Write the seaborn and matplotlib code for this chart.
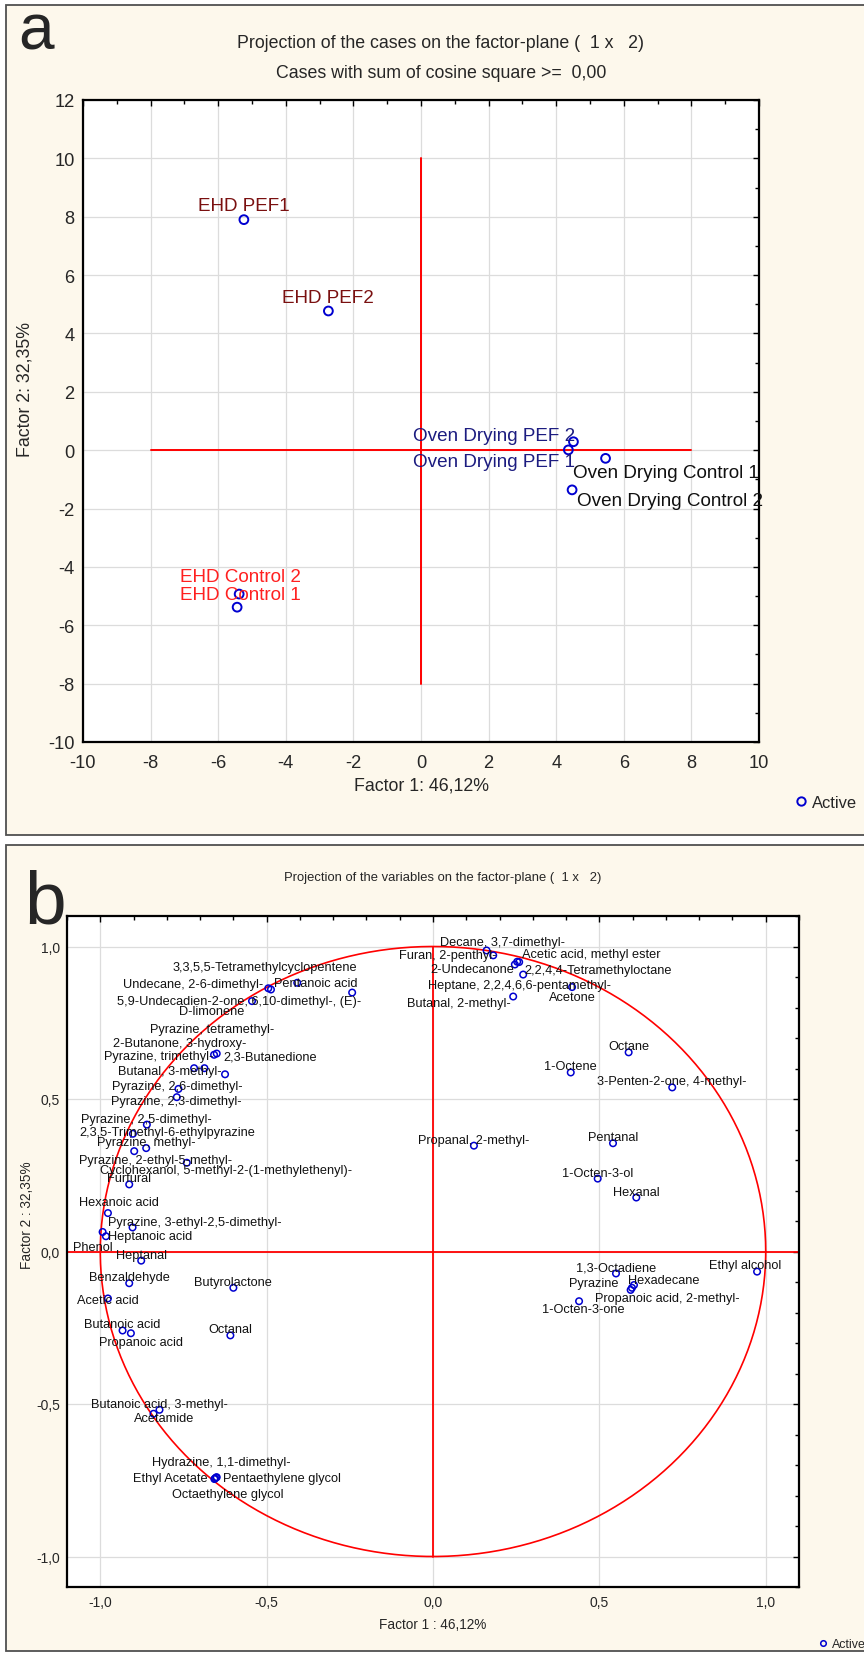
import numpy as np
import matplotlib
matplotlib.use("Agg")
import matplotlib.pyplot as plt
from matplotlib import font_manager
from matplotlib.lines import Line2D
from matplotlib.patches import Rectangle
from matplotlib.ticker import MultipleLocator, FuncFormatter
import seaborn as sns

# ---- panel a: cases on the factor plane
case_names = ["EHD PEF1", "EHD PEF2", "Oven Drying PEF 2", "Oven Drying PEF 1",
              "Oven Drying Control 1", "Oven Drying Control 2", "EHD Control 2", "EHD Control 1"]
case_f1 = [-5.24, -2.74, 4.51, 4.36, 5.46, 4.47, -5.38, -5.44]
case_f2 = [7.9, 4.77, 0.29, 0.01, -0.28, -1.36, -4.93, -5.38]
case_group = ["ehd_pef", "ehd_pef", "oven_pef", "oven_pef", "oven_ctrl", "oven_ctrl", "ehd_ctrl", "ehd_ctrl"]

# ---- panel b: variables on the factor plane
var_names = [
    "Decane, 3,7-dimethyl-", "Furan, 2-penthyl-", "Acetic acid, methyl ester", "2-Undecanone",
    "2,2,4,4-Tetramethyloctane", "Heptane, 2,2,4,6,6-pentamethyl-", "Acetone", "Butanal, 2-methyl-",
    "Octane", "1-Octene", "3-Penten-2-one, 4-methyl-", "Propanal, 2-methyl-", "Pentanal",
    "1-Octen-3-ol", "Hexanal", "1,3-Octadiene", "Hexadecane", "Pyrazine",
    "Propanoic acid, 2-methyl-", "1-Octen-3-one", "Ethyl alcohol",
    "3,3,5,5-Tetramethylcyclopentene", "Undecane, 2-6-dimethyl-", "Pentanoic acid",
    "5,9-Undecadien-2-one, 6,10-dimethyl-, (E)-", "D-limonene", "Pyrazine, tetramethyl-",
    "2-Butanone, 3-hydroxy-", "Pyrazine, trimethyl-", "2,3-Butanedione", "Butanal, 3-methyl-",
    "Pyrazine, 2,6-dimethyl-", "Pyrazine, 2,3-dimethyl-", "Pyrazine, 2,5-dimethyl-",
    "2,3,5-Trimethyl-6-ethylpyrazine", "Pyrazine, methyl-", "Pyrazine, 2-ethyl-5-methyl-",
    "Cyclohexanol, 5-methyl-2-(1-methylethenyl)-", "Furfural", "Hexanoic acid",
    "Pyrazine, 3-ethyl-2,5-dimethyl-", "Phenol", "Heptanoic acid", "Heptanal", "Benzaldehyde",
    "Butyrolactone", "Acetic acid", "Butanoic acid", "Propanoic acid", "Octanal",
    "Butanoic acid, 3-methyl-", "Acetamide", "Hydrazine, 1,1-dimethyl-", "Ethyl Acetate",
    "Pentaethylene glycol", "Octaethylene glycol",
]
var_f1 = [0.161, 0.181, 0.259, 0.246, 0.253, 0.271, 0.418, 0.241,
          0.588, 0.414, 0.719, 0.123, 0.541, 0.495, 0.611, 0.550,
          0.604, 0.598, 0.594, 0.439, 0.974,
          -0.495, -0.487, -0.408, -0.544, -0.243,
          -0.687, -0.718, -0.658, -0.650, -0.625,
          -0.765, -0.770, -0.860, -0.902, -0.862,
          -0.898, -0.740, -0.913, -0.977, -0.903,
          -0.993, -0.983, -0.877, -0.913, -0.600,
          -0.977, -0.933, -0.908, -0.609, -0.822,
          -0.840, -0.650, -0.655, -0.652, -0.657]
var_f2 = [0.987, 0.971, 0.949, 0.941, 0.950, 0.908, 0.867, 0.836,
          0.653, 0.587, 0.538, 0.347, 0.355, 0.239, 0.177, -0.072,
          -0.110, -0.119, -0.126, -0.163, -0.066,
          0.863, 0.859, 0.881, 0.821, 0.849,
          0.601, 0.601, 0.645, 0.649, 0.581,
          0.533, 0.506, 0.416, 0.386, 0.339,
          0.329, 0.291, 0.220, 0.126, 0.079,
          0.064, 0.050, -0.030, -0.104, -0.119,
          -0.154, -0.259, -0.268, -0.275, -0.519,
          -0.532, -0.740, -0.744, -0.741, -0.746]

# label placement: (dx px, dy px, ha) relative to the point
case_label_pos = {
    "EHD PEF1": (0, 14, "center"), "EHD PEF2": (0, 13, "center"),
    "Oven Drying PEF 2": (2, 6, "right"), "Oven Drying PEF 1": (7, -12, "right"),
    "Oven Drying Control 1": (-33, -14, "left"), "Oven Drying Control 2": (5, -11, "left"),
    "EHD Control 2": (1, 18, "center"), "EHD Control 1": (3, 13, "center"),
}
case_colors = {"ehd_pef": "#7a1010", "oven_pef": "#1c1c80", "oven_ctrl": "#101010", "ehd_ctrl": "#ff2020"}

var_label_pos = {
    "Decane, 3,7-dimethyl-": (16, 8, "center"), "Furan, 2-penthyl-": (3, 0, "right"),
    "Acetic acid, methyl ester": (72, 8, "center"), "2-Undecanone": (-1, -5, "right"),
    "2,2,4,4-Tetramethyloctane": (7, -8, "left"), "Heptane, 2,2,4,6,6-pentamethyl-": (-4, -10, "center"),
    "Acetone": (0, -10, "center"), "Butanal, 2-methyl-": (-2, -6, "right"),
    "Ethyl alcohol": (-12, 7, "center"), "Hexadecane": (-6, 5, "left"), "Pyrazine": (-13, 5, "right"),
    "Propanoic acid, 2-methyl-": (-36, -8, "left"), "1-Octen-3-one": (4, -8, "center"),
    "3,3,5,5-Tetramethylcyclopentene": (-3, 21, "center"), "Undecane, 2-6-dimethyl-": (-8, 6, "right"),
    "Pentanoic acid": (-23, 0, "left"), "5,9-Undecadien-2-one, 6,10-dimethyl-, (E)-": (-13, 0, "center"),
    "D-limonene": (-140, -18, "center"), "Pyrazine, tetramethyl-": (8, 39, "center"),
    "2-Butanone, 3-hydroxy-": (-14, 25, "center"), "Pyrazine, trimethyl-": (-1, -1, "right"),
    "2,3-Butanedione": (7, -3, "left"), "Butanal, 3-methyl-": (-3, 3, "right"),
    "Pyrazine, 2,6-dimethyl-": (-1, 3, "center"), "Pyrazine, 2,3-dimethyl-": (0, -4, "center"),
    "2,3,5-Trimethyl-6-ethylpyrazine": (34, 2, "center"), "Pyrazine, 2-ethyl-5-methyl-": (21, -9, "center"),
    "Cyclohexanol, 5-methyl-2-(1-methylethenyl)-": (39, -7, "center"), "Hexanoic acid": (11, 11, "center"),
    "Pyrazine, 3-ethyl-2,5-dimethyl-": (62, 5, "center"), "Phenol": (-10, -15, "center"),
    "Heptanoic acid": (2, 0, "left"), "Acetic acid": (0, -2, "center"), "Propanoic acid": (10, -9, "center"),
    "Acetamide": (11, -4, "center"), "Hydrazine, 1,1-dimethyl-": (5, 15, "center"),
    "Ethyl Acetate": (-7, 0, "right"), "Pentaethylene glycol": (7, 0, "left"),
    "Octaethylene glycol": (13, -15, "center"),
}

sns.set_style("white")
available = {f.name for f in font_manager.fontManager.ttflist}
NARROW = "Liberation Sans Narrow" if "Liberation Sans Narrow" in available else "Liberation Sans"
SQ = 1.0 if NARROW == "Liberation Sans Narrow" else 0.85
plt.rcParams["font.family"] = ["Liberation Sans", "DejaVu Sans"]

W, H = 864, 1656
BG = "#fdf8ec"
POINT = "#0000d0"
fig = plt.figure(figsize=(W / 100, H / 100), dpi=100)
fig.patch.set_facecolor("white")


def fx(px):
    return px / W


def fy(py):
    return 1 - py / H


# cream panel frames, kept behind the axes
for top, bottom in [(6, 836), (846, 1652)]:
    fig.patches.append(Rectangle((fx(6), fy(bottom)), fx(900), (bottom - top) / H,
                                 transform=fig.transFigure, facecolor=BG, edgecolor="#505050",
                                 linewidth=1.3, zorder=-10))


def style_axes(ax, major, minor, fmt, tick_font, tick_size, pad_x, pad_y):
    ax.set_zorder(5)
    ax.set_facecolor("white")
    ax.xaxis.set_major_locator(MultipleLocator(major))
    ax.yaxis.set_major_locator(MultipleLocator(major))
    ax.xaxis.set_minor_locator(MultipleLocator(minor))
    ax.yaxis.set_minor_locator(MultipleLocator(minor))
    ax.xaxis.set_major_formatter(FuncFormatter(fmt))
    ax.yaxis.set_major_formatter(FuncFormatter(fmt))
    ax.grid(True, which="major", color="#dcdcdc", linewidth=0.9, zorder=0)
    ax.set_axisbelow(True)
    for s in ax.spines.values():
        s.set_color("black")
        s.set_linewidth(1.6)
    ax.tick_params(which="both", direction="in", top=True, right=True, color="black", width=1.0)
    ax.tick_params(which="major", length=4)
    ax.tick_params(which="minor", length=3)
    ax.tick_params(axis="x", which="major", pad=pad_x)
    ax.tick_params(axis="y", which="major", pad=pad_y)
    for lab in ax.get_xticklabels() + ax.get_yticklabels():
        lab.set_fontfamily(tick_font)
        lab.set_fontsize(tick_size)


def int_fmt(v, _):
    return f"{round(v) + 0:d}"


def comma_fmt(v, _):
    return f"{round(v, 2) + 0.0:.1f}".replace(".", ",")


# ================= panel a =================
ax_a = fig.add_axes([fx(83), fy(743), (759 - 83) / W, (743 - 101) / H])
ax_a.set_xlim(-10, 10)
ax_a.set_ylim(-10, 12)
style_axes(ax_a, 2, 1, int_fmt, NARROW, 15.5 * SQ, 9, 6)

ax_a.plot([-8, 8], [0, 0], color="#ff0000", linewidth=1.4, zorder=2)
ax_a.plot([0, 0], [-8, 10], color="#ff0000", linewidth=1.4, zorder=2)

sns.scatterplot(x=case_f1, y=case_f2, ax=ax_a, s=40, marker="o", facecolor="none",
                edgecolor=POINT, linewidth=1.4, legend=False, zorder=3)
for name, x, y, g in zip(case_names, case_f1, case_f2, case_group):
    dx, dy, ha = case_label_pos[name]
    ax_a.annotate(name, (x, y), xytext=(dx, dy), textcoords="offset pixels", ha=ha, va="center",
                  fontsize=16 * SQ, fontfamily=NARROW, color=case_colors[g], zorder=4)

ax_a.set_xlabel("Factor 1: 46,12%", fontsize=15 * SQ, fontfamily=NARROW)
ax_a.set_ylabel("Factor 2: 32,35%", fontsize=15 * SQ, fontfamily=NARROW)
ax_a.xaxis.label.set_va("center")
ax_a.yaxis.label.set_va("center")
ax_a.xaxis.set_label_coords(0.5, (743 - 786) / (743 - 101))
ax_a.yaxis.set_label_coords((25 - 83) / (759 - 83), (743 - 390) / (743 - 101))

fig.text(fx(441), fy(43), "Projection of the cases on the factor-plane (  1 x   2)",
         ha="center", va="center", fontsize=15 * SQ, fontfamily=NARROW)
fig.text(fx(441), fy(73), "Cases with sum of cosine square >=  0,00",
         ha="center", va="center", fontsize=15 * SQ, fontfamily=NARROW)
fig.text(fx(18), fy(32), "a", ha="left", va="center", fontsize=46)

fig.legend(handles=[Line2D([], [], marker="o", linestyle="", markerfacecolor="none",
                           markeredgecolor=POINT, markersize=6, markeredgewidth=1.4)],
           labels=["Active"], loc="center left", bbox_to_anchor=(fx(786), fy(803)),
           frameon=False, handletextpad=0.3, handlelength=0.8, borderpad=0,
           prop={"family": NARROW, "size": 14 * SQ})

# ================= panel b =================
ax_b = fig.add_axes([fx(67), fy(1588), (799 - 67) / W, (1588 - 917) / H])
ax_b.set_xlim(-1.1, 1.1)
ax_b.set_ylim(-1.1, 1.1)
style_axes(ax_b, 0.5, 0.1, comma_fmt, "Liberation Sans", 10, 6, 5)

t = np.linspace(0, 2 * np.pi, 400)
ax_b.plot(np.cos(t), np.sin(t), color="#ff0000", linewidth=1.2, zorder=2)
ax_b.axhline(0, color="#ff0000", linewidth=1.3, zorder=2)
ax_b.plot([0, 0], [-1, 1], color="#ff0000", linewidth=1.3, zorder=2)

sns.scatterplot(x=var_f1, y=var_f2, ax=ax_b, s=22, marker="o", facecolor="none",
                edgecolor=POINT, linewidth=1.1, legend=False, zorder=3)
for name, x, y in zip(var_names, var_f1, var_f2):
    dx, dy, ha = var_label_pos.get(name, (0, 6, "center"))
    ax_b.annotate(name, (x, y), xytext=(dx, dy), textcoords="offset pixels", ha=ha, va="center",
                  fontsize=9.2, color="#111111", zorder=4)

ax_b.set_xlabel("Factor 1 : 46,12%", fontsize=11.5 * SQ, fontfamily=NARROW)
ax_b.set_ylabel("Factor 2 : 32,35%", fontsize=11.5 * SQ, fontfamily=NARROW)
ax_b.xaxis.label.set_va("center")
ax_b.yaxis.label.set_va("center")
ax_b.xaxis.set_label_coords(0.5, (1588 - 1625) / (1588 - 917))
ax_b.yaxis.set_label_coords((27 - 67) / (799 - 67), (1588 - 1215) / (1588 - 917))

fig.text(fx(443), fy(878), "Projection of the variables on the factor-plane (  1 x   2)",
         ha="center", va="center", fontsize=11 * SQ, fontfamily=NARROW)
fig.text(fx(24), fy(904), "b", ha="left", va="center", fontsize=54)

fig.legend(handles=[Line2D([], [], marker="o", linestyle="", markerfacecolor="none",
                           markeredgecolor=POINT, markersize=4, markeredgewidth=1.1)],
           labels=["Active"], loc="center left", bbox_to_anchor=(fx(812), fy(1645)),
           frameon=False, handletextpad=0.3, handlelength=0.8, borderpad=0,
           prop={"family": NARROW, "size": 10.5 * SQ})

fig.savefig("out.png", dpi=100, facecolor=fig.get_facecolor())
